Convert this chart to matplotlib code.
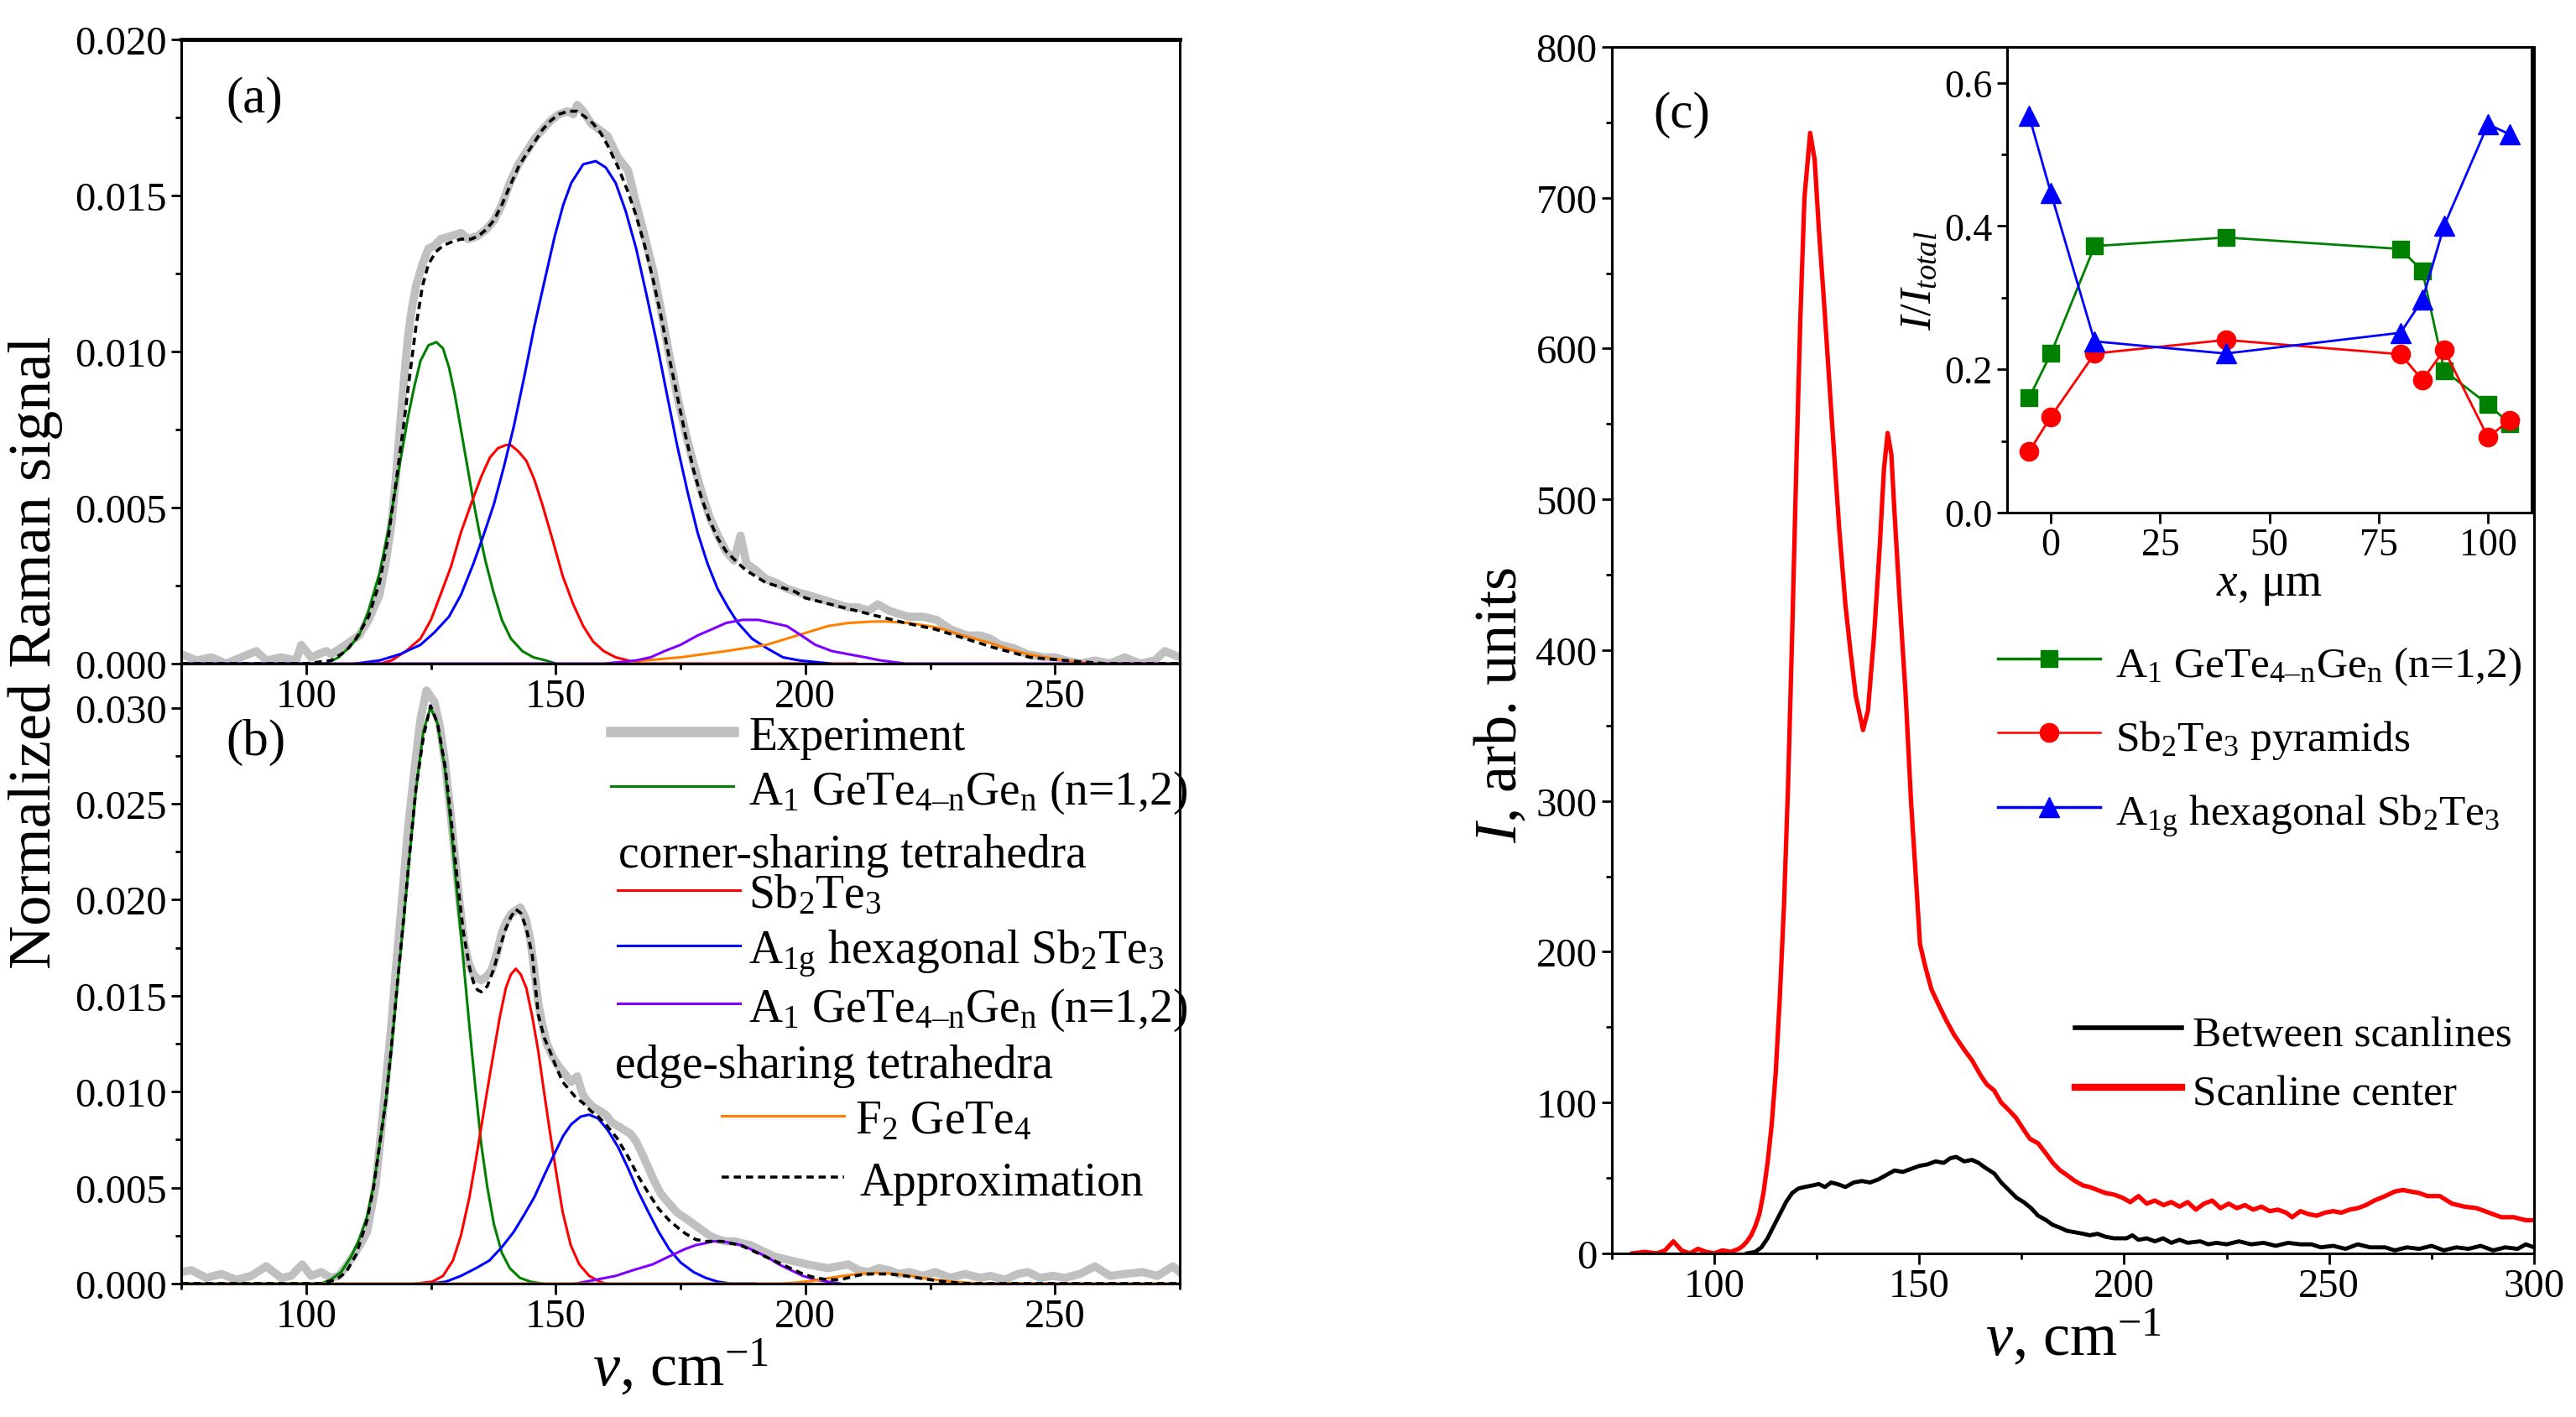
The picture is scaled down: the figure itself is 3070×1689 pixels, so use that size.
import numpy as np
import matplotlib
matplotlib.use('Agg')
import matplotlib.pyplot as plt
from matplotlib.ticker import MultipleLocator

plt.rcParams.update({
    'font.family': ['Liberation Serif', 'DejaVu Serif'],
    'mathtext.fontset': 'custom',
    'mathtext.rm': 'Liberation Serif',
    'mathtext.it': 'Liberation Serif:italic',
    'mathtext.bf': 'Liberation Serif:bold',
    'mathtext.default': 'regular',
    'axes.linewidth': 2.2,
})

# ---------------- panel (a) ----------------
exp_a_x = [75, 78, 81, 84, 87, 90, 92, 95, 98, 99, 101, 104, 105, 107, 110.6, 112.5, 114.7, 116, 117.1, 118,
           118.8, 119.6, 120.4, 121.2, 122, 123.3, 124.5, 125.7, 126.9, 129, 131, 132.5, 134.3, 136, 137.6,
           139.2, 140.8, 142.5, 144.1, 145.7, 147.3, 149, 150.6, 152.4, 153.5, 154.3, 155.5, 157.1, 158.8,
           160.4, 162.5, 164.5, 166, 167.8, 169.5, 171, 172.6, 174.3, 176, 177.6, 179.2, 180.8, 182.5, 184.1,
           185.7, 187, 188.2, 190, 192.2, 194, 196.3, 198, 200.4, 202.5, 204.5, 206.5, 208.6, 210.5, 212.7,
           214.5, 216.7, 218.5, 220.8, 223.5, 226.3, 229, 232.4, 235, 237, 239, 241.6, 244.5, 247.7, 250,
           252.2, 255, 258, 261, 264, 267, 270, 272, 275]
exp_a_y = [0.0003, 0.0001, 0.0002, 0.0000, 0.0002, 0.0004, 0.0001, 0.0002, 0.0001, 0.0006, 0.0002, 0.0004,
           0.0003, 0.0005, 0.0009, 0.0014, 0.0022, 0.0033, 0.0045, 0.0060, 0.0076, 0.0091, 0.0105, 0.0114,
           0.0121, 0.0128, 0.0133, 0.0134, 0.0136, 0.0137, 0.0138, 0.0136, 0.0137, 0.0139, 0.0142, 0.0147,
           0.0154, 0.0160, 0.0164, 0.0168, 0.0171, 0.0174, 0.0176, 0.0177, 0.0176, 0.0179, 0.0177, 0.0173,
           0.0171, 0.0169, 0.0162, 0.0158, 0.0148, 0.0137, 0.0126, 0.0114, 0.0100, 0.0086, 0.0074, 0.0064,
           0.0055, 0.0047, 0.0041, 0.0036, 0.0033, 0.0041, 0.0032, 0.0030, 0.0027, 0.0026, 0.0024, 0.0023,
           0.0022, 0.0021, 0.0020, 0.0019, 0.0018, 0.0018, 0.0017, 0.0019, 0.0017, 0.0016, 0.0015, 0.0015,
           0.0014, 0.0011, 0.0009, 0.0009, 0.0008, 0.0006, 0.0005, 0.0003, 0.0002, 0.0002, 0.0001, 0.0000,
           0.0001, 0.0000, 0.0002, 0.0000, 0.0001, 0.0004, 0.0002]

apx_a_x = [75, 100, 105, 108, 110, 112.5, 114.7, 116.5, 118, 119.5, 120.4, 122, 123.3, 124.5, 126, 127.5, 129,
           131, 133, 134.5, 136, 137.6, 139.2, 140.8, 142.5, 144, 145.7, 147.3, 149, 150.6, 152.5, 154.3, 156,
           157.5, 159, 160.4, 162.5, 164.5, 166, 167.8, 169.5, 171, 172.6, 174.3, 176, 177.6, 179.2, 180.8,
           182.5, 184.1, 186, 188, 190, 192, 194, 196, 198, 200, 205, 210, 215, 220, 226, 232, 238, 245, 252,
           260, 275]
apx_a_y = [0, 0, 0.0001, 0.0004, 0.0008, 0.0015, 0.0026, 0.0041, 0.0058, 0.0076, 0.0088, 0.0108, 0.0121,
           0.0128, 0.0132, 0.0134, 0.0135, 0.0136, 0.0136, 0.0137, 0.0139, 0.0142, 0.0147, 0.0153, 0.0159,
           0.0163, 0.0167, 0.0171, 0.0174, 0.0176, 0.0177, 0.0177, 0.0175, 0.0173, 0.0170, 0.0166, 0.0159,
           0.0151, 0.0144, 0.0134, 0.0123, 0.0112, 0.0099, 0.0086, 0.0073, 0.0062, 0.0053, 0.0046, 0.0040,
           0.0036, 0.0033, 0.0030, 0.0028, 0.0026, 0.0025, 0.0024, 0.0023, 0.0021, 0.0019, 0.0017, 0.0015,
           0.0013, 0.0011, 0.0008, 0.0005, 0.0002, 0.0001, 0, 0]

green_a_x = [75, 104, 106.5, 108.5, 110.6, 112.5, 114.7, 116.5, 118, 119.2, 120.4, 121.7, 122.9, 124.5, 126.1,
             127.4, 128.6, 129.8, 131, 132.2, 133.5, 134.7, 135.9, 137.5, 139.2, 141, 143.3, 145.5, 148, 150]
green_a_y = [0, 0, 0.0002, 0.0005, 0.0009, 0.0017, 0.0029, 0.0043, 0.0057, 0.0068, 0.0079, 0.0089, 0.0097,
             0.0102, 0.0103, 0.0101, 0.0095, 0.0086, 0.0075, 0.0064, 0.0052, 0.0042, 0.0033, 0.0023, 0.0014,
             0.0008, 0.0004, 0.0002, 0.0001, 0]

red_a_x = [110, 115, 117.1, 120, 122.9, 125, 126.9, 129, 131, 133, 135.1, 136.8, 138.4, 140, 141, 142.5, 144.1,
           145.7, 147.3, 149.3, 151.4, 153.5, 155.5, 157.5, 159.6, 162, 164.5, 167, 210]
red_a_y = [0, 0, 0.0001, 0.0004, 0.0008, 0.0014, 0.0022, 0.0031, 0.0042, 0.0051, 0.0060, 0.0066, 0.0069,
           0.0070, 0.0070, 0.0068, 0.0065, 0.0059, 0.0051, 0.0040, 0.0028, 0.0019, 0.0012, 0.0007, 0.0004,
           0.0002, 0.0001, 0, 0]

blue_a_x = [110, 114.7, 118.8, 122.9, 125.7, 128.6, 131, 133.5, 135.5, 137.6, 139.6, 141.6, 143.7, 145.7, 147.8,
            149.8, 151.5, 153.1, 155.5, 158, 160, 162, 164, 166.1, 168.2, 170.2, 172.3, 174.3, 176.4, 178.4,
            180.4, 182.4, 184.5, 186.5, 189.3, 192.2, 195.5, 198.8, 205]
blue_a_y = [0, 0.0001, 0.0003, 0.0006, 0.0010, 0.0015, 0.0022, 0.0032, 0.0041, 0.0051, 0.0063, 0.0076, 0.0092,
            0.0108, 0.0123, 0.0137, 0.0147, 0.0154, 0.0160, 0.0161, 0.0159, 0.0154, 0.0145, 0.0133, 0.0118,
            0.0103, 0.0086, 0.0070, 0.0055, 0.0042, 0.0032, 0.0024, 0.0018, 0.0013, 0.0008, 0.0005, 0.0002,
            0.0001, 0]

purple_a_x = [75, 160, 166.1, 169, 171.8, 175, 178.4, 181.3, 184.1, 187.4, 190.6, 193.5, 196.3, 199.2, 202,
              205.3, 208.6, 212, 215.1, 220, 275]
purple_a_y = [0, 0, 0.0001, 0.0002, 0.0004, 0.0006, 0.0009, 0.0011, 0.0013, 0.0014, 0.0014, 0.0013, 0.0012,
              0.0009, 0.0006, 0.0004, 0.0003, 0.0002, 0.0001, 0, 0]

orange_a_x = [160, 167.8, 175, 184.1, 192.2, 200.4, 204.5, 208.6, 212.7, 216, 220.8, 226.3, 231.5, 237, 241,
              244.6, 248, 252, 258, 275]
orange_a_y = [0, 0.0001, 0.0002, 0.0004, 0.0006, 0.0010, 0.0012, 0.0013, 0.00134, 0.00135, 0.0013, 0.00116,
              0.0009, 0.00066, 0.00045, 0.0003, 0.0002, 0.0001, 0, 0]

# ---------------- panel (b) ----------------
exp_b_x = [75, 77, 80, 83, 86, 89, 92, 95, 97, 99.2, 101, 103, 105, 106.5, 108, 109.8, 111, 112.2, 113, 113.9,
           114.9, 115.9, 117, 118, 119.2, 120.4, 121.7, 122.9, 124.1, 125.7, 126.8, 127.8, 129, 130.2, 131,
           131.8, 132.7, 133.5, 134.3, 135.1, 136.1, 137.1, 138.2, 139.2, 140.2, 141.2, 142.9, 144, 144.9,
           145.7, 146.5, 147.4, 148.2, 149.4, 150.6, 151.9, 153.1, 154.3, 155.3, 156.3, 157.5, 158.8, 160,
           161.2, 162.5, 163.7, 165, 166.1, 167.4, 168.6, 169.8, 171, 172.6, 174.3, 176, 177.6, 179.2, 180.8,
           182.5, 184.1, 185.7, 187.3, 189, 190.6, 192.2, 193.9, 195.5, 197.1, 198.8, 200.4, 202.5, 204.5,
           206.5, 208.6, 210.6, 212.7, 214.7, 216.7, 218.7, 220.8, 223.5, 226, 229, 232, 235, 237, 240, 242.5,
           244.6, 247, 249.5, 252, 255, 258, 261, 264, 267.5, 270.5, 273.6, 275]
exp_b_y = [0.0006, 0.0007, 0.0003, 0.0005, 0.0002, 0.0004, 0.0009, 0.0003, 0.0004, 0.0010, 0.0004, 0.0006,
           0.0003, 0.0004, 0.0009, 0.0016, 0.0021, 0.0027, 0.0038, 0.0051, 0.0076, 0.0103, 0.0133, 0.0165,
           0.0200, 0.0237, 0.0268, 0.0294, 0.0309, 0.0303, 0.0290, 0.0272, 0.0243, 0.0212, 0.0192, 0.0175,
           0.0166, 0.0161, 0.0159, 0.0158, 0.0160, 0.0163, 0.0172, 0.0183, 0.0189, 0.0193, 0.0196, 0.0190,
           0.0179, 0.0163, 0.0146, 0.0134, 0.0125, 0.0118, 0.0113, 0.0109, 0.0105, 0.0108, 0.0099, 0.0095,
           0.0092, 0.0090, 0.0088, 0.0084, 0.0082, 0.0080, 0.0078, 0.0074, 0.0067, 0.0060, 0.0053, 0.0047,
           0.0042, 0.0037, 0.0034, 0.0031, 0.0028, 0.0025, 0.0023, 0.0022, 0.0022, 0.0021, 0.0020, 0.0018,
           0.0016, 0.0014, 0.0013, 0.0012, 0.0011, 0.0010, 0.0009, 0.0008, 0.0009, 0.0010, 0.0007, 0.0006,
           0.0008, 0.0007, 0.0005, 0.0006, 0.0004, 0.0006, 0.0003, 0.0005, 0.0003, 0.0004, 0.0002, 0.0005,
           0.0006, 0.0003, 0.0004, 0.0003, 0.0005, 0.0009, 0.0004, 0.0005, 0.0006, 0.0004, 0.0009, 0.0006]

apx_b_x = [75, 103, 106, 108, 110, 112.2, 113.5, 114.7, 116, 117.1, 118.3, 119.6, 120.8, 122, 123.5, 124.9,
           126.3, 127.8, 129, 130.2, 131.5, 132.7, 133.5, 134.3, 135.1, 136.3, 137.6, 138.8, 140, 141, 142,
           143, 144.1, 145.3, 146.5, 147.7, 149, 150.2, 151.4, 152.7, 154, 155.5, 157, 158.5, 160, 162.2,
           164.5, 166.5, 168.6, 170.6, 172.7, 174.5, 176, 178, 180, 181.7, 183.3, 185, 187, 189.5, 192, 194.5,
           197, 199.5, 202, 204.5, 207, 210, 212, 214, 217, 220, 222.5, 225, 228, 232, 275]
apx_b_y = [0, 0, 0.0002, 0.0006, 0.0015, 0.0033, 0.0050, 0.0072, 0.0096, 0.0124, 0.0157, 0.0192, 0.0226,
           0.0258, 0.0285, 0.0301, 0.0292, 0.0270, 0.0243, 0.0212, 0.0183, 0.0165, 0.0157, 0.0153, 0.0152,
           0.0155, 0.0164, 0.0175, 0.0185, 0.0191, 0.0195, 0.0193, 0.0185, 0.0171, 0.0140, 0.0128, 0.0120,
           0.0112, 0.0105, 0.0101, 0.0097, 0.0094, 0.0090, 0.0087, 0.0083, 0.0076, 0.0066, 0.0056, 0.0047,
           0.0039, 0.0033, 0.0029, 0.0026, 0.0023, 0.0022, 0.0022, 0.0022, 0.0021, 0.0020, 0.0017, 0.0014,
           0.0011, 0.0008, 0.0005, 0.0003, 0.0002, 0.0002, 0.0004, 0.0005, 0.0005, 0.0005, 0.0004, 0.0003,
           0.0002, 0.0001, 0, 0]

green_b_x = [75, 103, 104.9, 107, 109, 110.6, 112.2, 113.5, 114.7, 116, 117.1, 118.3, 119.6, 120.8, 122, 123.5,
             124.9, 126.3, 127.8, 129, 130.2, 131.5, 132.7, 133.9, 135.1, 136.3, 137.6, 139.2, 140.8, 142.8,
             144.9, 147.3]
green_b_y = [0, 0, 0.0002, 0.0006, 0.0014, 0.0023, 0.0035, 0.0051, 0.0072, 0.0096, 0.0123, 0.0156, 0.0191,
             0.0225, 0.0257, 0.0288, 0.0300, 0.0292, 0.0268, 0.0238, 0.0204, 0.0168, 0.0134, 0.0102, 0.0072,
             0.0050, 0.0031, 0.0016, 0.0008, 0.0003, 0.0001, 0]

red_b_x = [122, 125.3, 127.4, 129.4, 131, 132.7, 133.9, 135.1, 136.3, 137.6, 138.8, 140, 141, 142, 143, 144.1,
           145.3, 146.5, 147.7, 149, 150.2, 151.4, 153, 154.7, 156.7, 158.8, 160]
red_b_y = [0, 0.0001, 0.0004, 0.0012, 0.0025, 0.0045, 0.0063, 0.0082, 0.0101, 0.0121, 0.0139, 0.0154, 0.0161,
           0.0164, 0.0161, 0.0154, 0.0139, 0.0121, 0.0099, 0.0076, 0.0056, 0.0037, 0.0020, 0.0010, 0.0004,
           0.0001, 0]

blue_b_x = [125, 128, 131, 134, 136.7, 139.2, 141.6, 143.7, 145.7, 147.8, 149.8, 151.5, 153.1, 155, 156.7,
            158.5, 160.4, 162.5, 164.5, 166.5, 168.6, 170.6, 172.7, 175, 177.6, 180, 182.4, 185, 190]
blue_b_y = [0, 0.0001, 0.0004, 0.0008, 0.0012, 0.0019, 0.0027, 0.0036, 0.0045, 0.0057, 0.0068, 0.0077, 0.0083,
            0.0087, 0.0088, 0.0086, 0.0080, 0.0071, 0.0060, 0.0048, 0.0037, 0.0027, 0.0018, 0.0011, 0.0006,
            0.0003, 0.0001, 0, 0]

purple_b_x = [154, 158, 162, 165.5, 169.4, 172.6, 175.9, 178, 179.9, 181.5, 183.3, 185.3, 187.3, 189.8, 192.2,
              194.7, 197.1, 199.5, 202, 204.5, 207]
purple_b_y = [0, 0.0002, 0.0004, 0.0007, 0.0010, 0.0014, 0.0018, 0.0020, 0.0021, 0.0022, 0.0022, 0.0021,
              0.0020, 0.0017, 0.0014, 0.0010, 0.0007, 0.0004, 0.0002, 0.0001, 0]

orange_b_x = [75, 195, 198, 201, 204, 207, 210, 212, 214, 216, 218, 221, 224, 227, 230, 234, 275]
orange_b_y = [0, 0, 0.00005, 0.00013, 0.00025, 0.00038, 0.00048, 0.00053, 0.00055, 0.00054, 0.0005, 0.0004,
              0.00028, 0.00017, 0.00009, 0.00002, 0]

# ---------------- panel (c) ----------------
center_x = [80, 83, 86, 88, 90, 92, 94, 96, 98, 100, 102, 104, 106, 107, 108, 109, 110, 111, 112, 113, 114, 115,
            116, 117, 118, 119, 120, 121, 122, 123.4, 124.5, 125.5, 126.8, 128.5, 130.5, 132, 133.2, 134.5,
            136.3, 137.5, 139, 140.4, 141.4, 142.3, 143.2, 144, 145.3, 146.7, 148, 149.4, 150.2, 151.5, 153,
            154.7, 156.5, 158.5, 161, 162.9, 165, 166.5, 168.3, 170, 171.5, 173.6, 175.5, 177, 179, 181, 182.6,
            184.4, 186, 188, 190, 191.6, 193.5, 195.5, 197.5, 199.5, 201.5, 203.5, 205.5, 207.5, 209.6, 211.5,
            213.5, 215.5, 217.5, 219.5, 221.5, 223.5, 225.5, 227.5, 229.5, 231.5, 233.5, 235.5, 237.5, 239.5,
            241, 243, 245, 247, 249, 251, 253, 255, 257, 259, 261, 263.7, 266, 268, 270, 272, 274, 277, 280,
            283, 286, 289, 292, 295, 298, 300]
center_y = [0, 1, 0, 2, 8, 2, 0, 3, 1, 0, 2, 1, 3, 5, 8, 12, 18, 26, 40, 60, 85, 120, 170, 230, 310, 410, 520,
            620, 700, 743, 725, 680, 630, 560, 480, 430, 400, 370, 347, 360, 410, 470, 520, 544, 530, 490, 430,
            370, 300, 240, 205, 190, 175, 165, 155, 145, 135, 128, 118, 112, 108, 100, 96, 90, 82, 76, 73, 66,
            60, 55, 52, 48, 45, 44, 42, 40, 39, 37, 34, 38, 33, 35, 32, 34, 31, 34, 29, 33, 35, 30, 33, 30, 32,
            29, 31, 28, 29, 27, 24, 28, 26, 25, 27, 28, 27, 29, 30, 32, 35, 38, 41, 42, 41, 40, 38, 38, 33, 31,
            30, 27, 24, 24, 22, 22]

between_x = [108, 110, 111.5, 113, 114.3, 116, 117.5, 119, 120.5, 122, 123.9, 125.5, 127, 128.5, 130, 132, 134,
             136, 138, 140, 142, 144, 146, 148, 150, 152, 154, 156, 157.5, 159, 161, 162.9, 164.5, 166, 168.3,
             170, 171.5, 173.7, 175.5, 177.3, 179, 181, 182.5, 184.4, 186, 188, 190, 191.6, 193.5, 195.5, 197.5,
             200.6, 202, 203.5, 205.5, 207.5, 209.5, 211.5, 213.5, 215.5, 218.6, 220.5, 222.5, 225, 228, 231,
             234, 237, 240, 243, 245.7, 248, 251, 254, 257, 260, 263.7, 266, 269, 272, 275, 278, 281, 284, 287,
             290, 293, 296, 298, 300]
between_y = [0, 1, 4, 10, 17, 26, 34, 40, 43, 44, 45, 46, 44, 47, 46, 44, 47, 48, 47, 49, 52, 55, 54, 56, 58, 59,
             61, 60, 63, 64, 61, 62, 60, 57, 53, 47, 43, 37, 34, 30, 25, 22, 19, 17, 15, 14, 13, 12, 13, 11, 10,
             10, 12, 9, 10, 8, 10, 7, 9, 7, 8, 6, 7, 6, 8, 6, 7, 5, 7, 6, 6, 4, 5, 3, 6, 4, 4, 2, 4, 3, 5, 2, 4,
             3, 5, 2, 4, 3, 6, 4]

# inset: relative intensities vs position
pos_x = [-5, 0, 10, 40, 80, 85, 90, 100, 105]
frac_corner = [0.160, 0.222, 0.372, 0.384, 0.368, 0.337, 0.198, 0.151, 0.124]
frac_pyramid = [0.085, 0.134, 0.222, 0.241, 0.221, 0.185, 0.227, 0.105, 0.129]
frac_hex = [0.554, 0.446, 0.239, 0.222, 0.251, 0.297, 0.401, 0.542, 0.528]

TICK = 35
LEG = 40
LAB = 52

GREEN = '#008000'
RED = '#ff0000'
BLUE = '#0000ff'
PURPLE = '#8000ff'
ORANGE = '#ff8000'
GRAY = '#c0c0c0'

lab_a = 'A$_1$ GeTe$_{4\u2013n}$Ge$_n$ (n=1,2)'
lab_sb = r'Sb$_2$Te$_3$'
lab_hex = r'A$_{1g}$ hexagonal Sb$_2$Te$_3$'
lab_f2 = r'F$_2$ GeTe$_4$'
nu_label = r'$\mathit{\nu}$, cm$^{-1}$'

fig = plt.figure(figsize=(30.7, 16.9), dpi=100)
ax_a = fig.add_axes([0.0704, 0.5314, 0.3876, 0.4402])
ax_b = fig.add_axes([0.0704, 0.0941, 0.3876, 0.4373])
ax_c = fig.add_axes([0.6257, 0.1154, 0.3580, 0.8509])
ax_in = fig.add_axes([0.7792, 0.6379, 0.2036, 0.3284])
ax_a.set_zorder(3)
ax_b.patch.set_alpha(0)


def style(ax):
    ax.tick_params(which='both', direction='out', labelsize=TICK, width=2)
    ax.tick_params(which='major', length=9)
    ax.tick_params(which='minor', length=5)


def row(ax, x0, x1, y, tx, text, fs, **kw):
    ax.plot([x0, x1], [y, y], transform=ax.transAxes, clip_on=False, **kw)
    if text:
        ax.annotate(text, xy=(tx, y), xycoords='axes fraction', xytext=(0, -15),
                    textcoords='offset points', va='baseline', ha='left', fontsize=fs)


# (a)
ax_a.plot(exp_a_x, exp_a_y, color=GRAY, lw=7, solid_joinstyle='round')
ax_a.plot(green_a_x, green_a_y, color=GREEN, lw=2.2)
ax_a.plot(red_a_x, red_a_y, color=RED, lw=2.2)
ax_a.plot(blue_a_x, blue_a_y, color=BLUE, lw=2.2)
ax_a.plot(orange_a_x, orange_a_y, color=ORANGE, lw=2.2)
ax_a.plot(purple_a_x, purple_a_y, color=PURPLE, lw=2.2)
ax_a.plot(apx_a_x, apx_a_y, color='black', lw=2.6, ls=(0, (2.4, 1.6)))
ax_a.set_xlim(75, 275)
ax_a.set_ylim(0, 0.020)
ax_a.xaxis.set_major_locator(MultipleLocator(50))
ax_a.xaxis.set_minor_locator(MultipleLocator(25))
ax_a.yaxis.set_major_locator(MultipleLocator(0.005))
ax_a.yaxis.set_minor_locator(MultipleLocator(0.0025))
ax_a.yaxis.set_major_formatter(matplotlib.ticker.FormatStrFormatter('%.3f'))
ax_a.spines['top'].set_linewidth(3.5)
style(ax_a)
ax_a.text(0.045, 0.905, '(a)', transform=ax_a.transAxes, fontsize=44, va='center')

# (b)
ax_b.plot(exp_b_x, exp_b_y, color=GRAY, lw=7, solid_joinstyle='round')
ax_b.plot(green_b_x, green_b_y, color=GREEN, lw=2.2)
ax_b.plot(red_b_x, red_b_y, color=RED, lw=2.2)
ax_b.plot(blue_b_x, blue_b_y, color=BLUE, lw=2.2)
ax_b.plot(purple_b_x, purple_b_y, color=PURPLE, lw=2.2)
ax_b.plot(orange_b_x, orange_b_y, color=ORANGE, lw=2.2)
ax_b.plot(apx_b_x, apx_b_y, color='black', lw=2.6, ls=(0, (2.4, 1.6)))
ax_b.set_xlim(75, 275)
ax_b.set_ylim(0, 0.0323)
ax_b.spines['top'].set_visible(False)
ax_b.xaxis.set_major_locator(MultipleLocator(50))
ax_b.xaxis.set_minor_locator(MultipleLocator(25))
ax_b.yaxis.set_major_locator(MultipleLocator(0.005))
ax_b.yaxis.set_minor_locator(MultipleLocator(0.0025))
ax_b.yaxis.set_major_formatter(matplotlib.ticker.FormatStrFormatter('%.3f'))
style(ax_b)
ax_b.set_xlabel(nu_label, fontsize=LAB, labelpad=2)
ax_b.text(0.045, 0.874, '(b)', transform=ax_b.transAxes, fontsize=44, va='center')

row(ax_b, 0.430, 0.553, 0.890, 0.568, 'Experiment', LEG, color=GRAY, lw=9)
row(ax_b, 0.430, 0.553, 0.803, 0.568, lab_a, LEG, color=GREEN, lw=2.2)
ax_b.annotate('corner-sharing tetrahedra', xy=(0.438, 0.701), xycoords='axes fraction', xytext=(0, -15),
              textcoords='offset points', va='baseline', ha='left', fontsize=LEG)
row(ax_b, 0.437, 0.560, 0.635, 0.568, lab_sb, LEG, color=RED, lw=2.2)
row(ax_b, 0.437, 0.560, 0.545, 0.568, lab_hex, LEG, color=BLUE, lw=2.2)
row(ax_b, 0.437, 0.560, 0.452, 0.568, lab_a, LEG, color=PURPLE, lw=2.2)
ax_b.annotate('edge-sharing tetrahedra', xy=(0.434, 0.361), xycoords='axes fraction', xytext=(0, -15),
              textcoords='offset points', va='baseline', ha='left', fontsize=LEG)
row(ax_b, 0.541, 0.664, 0.271, 0.675, lab_f2, LEG, color=ORANGE, lw=2.2)
row(ax_b, 0.541, 0.664, 0.172, 0.679, 'Approximation', LEG, color='black', lw=2.6, ls=(0, (2.4, 1.6)))

fig.text(0.0137, 0.5396, 'Normalized Raman signal', rotation=90, ha='center', va='center', fontsize=LAB)

# (c)
ax_c.plot(between_x, between_y, color='black', lw=3.5)
ax_c.plot(center_x, center_y, color=RED, lw=3.8)
ax_c.set_xlim(75, 300)
ax_c.set_ylim(0, 800)
ax_c.xaxis.set_major_locator(MultipleLocator(50))
ax_c.xaxis.set_minor_locator(MultipleLocator(25))
ax_c.yaxis.set_major_locator(MultipleLocator(100))
ax_c.yaxis.set_minor_locator(MultipleLocator(50))
style(ax_c)
ax_c.set_xlabel(nu_label, fontsize=LAB, labelpad=2)
ax_c.set_ylabel(r'$\mathit{I}$, arb. units', fontsize=LAB)
ax_c.yaxis.set_label_coords(-0.090, 0.455)
ax_c.text(0.045, 0.944, '(c)', transform=ax_c.transAxes, fontsize=44, va='center')

row(ax_c, 0.502, 0.618, 0.187, 0.630, 'Between scanlines', 37, color='black', lw=4)
row(ax_c, 0.502, 0.618, 0.138, 0.630, 'Scanline center', 37, color=RED, lw=6)

row(ax_c, 0.419, 0.530, 0.493, 0.546, lab_a, 37, color=GREEN, lw=2.5)
ax_c.plot([0.4745], [0.493], 's', ms=15, color=GREEN, transform=ax_c.transAxes, clip_on=False)
row(ax_c, 0.419, 0.530, 0.432, 0.546, lab_sb + ' pyramids', 37, color=RED, lw=1.8)
ax_c.plot([0.4745], [0.432], 'o', ms=16, color=RED, transform=ax_c.transAxes, clip_on=False)
row(ax_c, 0.419, 0.530, 0.370, 0.546, lab_hex, 37, color=BLUE, lw=2.5)
ax_c.plot([0.4745], [0.370], '^', ms=17, color=BLUE, transform=ax_c.transAxes, clip_on=False)

# inset
ax_in.plot(pos_x, frac_corner, color=GREEN, lw=2, marker='s', ms=15)
ax_in.plot(pos_x, frac_pyramid, color=RED, lw=2, marker='o', ms=16)
ax_in.plot(pos_x, frac_hex, color=BLUE, lw=2, marker='^', ms=17)
ax_in.set_xlim(-10, 110)
ax_in.set_ylim(0, 0.65)
ax_in.xaxis.set_major_locator(MultipleLocator(25))
ax_in.yaxis.set_major_locator(MultipleLocator(0.2))
ax_in.yaxis.set_minor_locator(MultipleLocator(0.1))
ax_in.yaxis.set_major_formatter(matplotlib.ticker.FormatStrFormatter('%.1f'))
style(ax_in)
ax_in.tick_params(labelsize=33)
ax_in.set_xlabel(r'$\mathit{x}$, μm', fontsize=40, labelpad=0)
ax_in.set_ylabel(r'$\mathit{I/I}_{\mathit{total}}$', fontsize=38, labelpad=4)

fig.savefig('out.png', dpi=100)
